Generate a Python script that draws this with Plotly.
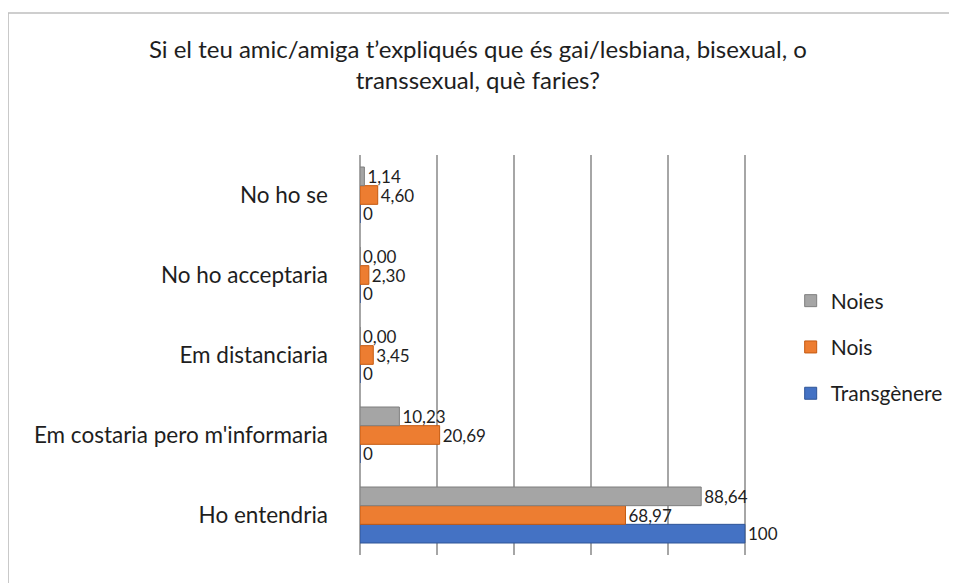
import plotly.graph_objects as go

# categories listed bottom -> top (plotly draws first category at the bottom)
categories = ["Ho entendria", "Em costaria pero m'informaria", "Em distanciaria",
              "No ho acceptaria", "No ho se"]
transgenere = [100, 0, 0, 0, 0]
nois = [68.97, 20.69, 3.45, 2.30, 4.60]
noies = [88.64, 10.23, 0.00, 0.00, 1.14]

font = "Lato, Carlito, Calibri, sans-serif"
txt = "#1e1e1e"

fig = go.Figure()

# first trace sits lowest in each group, so Transgènere goes first
fig.add_trace(go.Bar(y=categories, x=transgenere, name="Transgènere", orientation="h",
                     marker=dict(color="#4472c4", line=dict(color="#2f5597", width=1)),
                     texttemplate="%{x:.0f}", legendrank=3, legendgroup="t"))
fig.add_trace(go.Bar(y=categories, x=nois, name="Nois", orientation="h",
                     marker=dict(color="#ed7d31", line=dict(color="#c55a11", width=1)),
                     texttemplate="%{x:.2f}", legendrank=2, legendgroup="n"))
fig.add_trace(go.Bar(y=categories, x=noies, name="Noies", orientation="h",
                     marker=dict(color="#a5a5a5", line=dict(color="#7f7f7f", width=1)),
                     texttemplate="%{x:.2f}", legendrank=1, legendgroup="g"))

fig.update_layout(
    width=957, height=583,
    separators=",.",
    barmode="group", bargap=0.3, bargroupgap=0,
    paper_bgcolor="white", plot_bgcolor="white",
    margin=dict(l=352, r=217, t=147, b=36),
    font=dict(family=font, size=20, color=txt),
    title=dict(text="Si el teu amic/amiga t’expliqués que és gai/lesbiana, bisexual, o<br>transsexual, què faries?",
               x=0.491, xref="container", xanchor="center", y=0.914, yanchor="top",
               font=dict(family=font, size=24, color=txt)),
    legend=dict(x=1.11, y=0.52, xanchor="left", yanchor="middle",
                traceorder="grouped", tracegroupgap=16,
                font=dict(family=font, size=21, color=txt), itemwidth=30),
    shapes=[dict(type="rect", xref="paper", yref="paper",
                 x0=-0.907, x1=1.6, y0=-0.15, y1=1.355,
                 line=dict(color="#bfbfbf", width=1.5), fillcolor="rgba(0,0,0,0)",
                 layer="below")],
)
fig.update_traces(textposition="outside", cliponaxis=False, constraintext="none",
                  textfont=dict(family=font, size=17, color=txt))
fig.update_xaxes(range=[0, 100.8], tickvals=[0, 20, 40, 60, 80, 100], showticklabels=False,
                 showgrid=True, gridcolor="#a6a6a6", gridwidth=2, zeroline=True,
                 zerolinecolor="#a6a6a6", zerolinewidth=2, showline=False, ticks="")
fig.update_yaxes(showgrid=False, ticks="", ticklabelstandoff=31,
                 tickfont=dict(family=font, size=22.5, color=txt))

fig.write_html("out.html")
